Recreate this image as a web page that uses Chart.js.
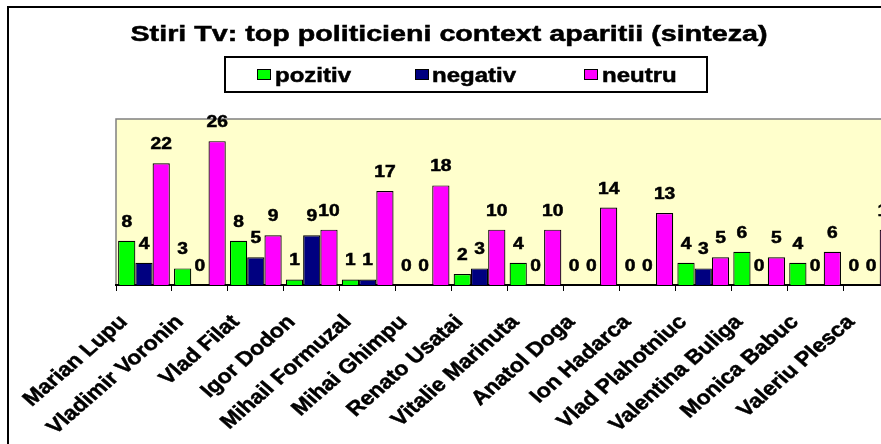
<!DOCTYPE html>
<html>
<head>
<meta charset="utf-8">
<script src="https://cdn.jsdelivr.net/npm/chart.js@4.4.1/dist/chart.umd.min.js"></script>
<style>
  html, body { margin: 0; padding: 0; background: #fff; }
  body { width: 881px; height: 444px; overflow: hidden; }
  canvas { display: block; }
</style>
</head>
<body>
<canvas id="chart" width="900" height="444"></canvas>
<script>
const categories = ['Marian Lupu', 'Vladimir Voronin', 'Vlad Filat', 'Igor Dodon', 'Mihail Formuzal',
    'Mihai Ghimpu', 'Renato Usatai', 'Vitalie Marinuta', 'Anatol Doga', 'Ion Hadarca',
    'Vlad Plahotniuc', 'Valentina Buliga', 'Monica Babuc', 'Valeriu Plesca'];
const pozitiv = [8, 3, 8, 1, 1, 0, 2, 4, 0, 0, 4, 6, 4, 0];
const negativ = [4, 0, 5, 9, 1, 0, 3, 0, 0, 0, 3, 0, 0, 0];
const neutru = [22, 26, 9, 10, 17, 18, 10, 10, 14, 13, 5, 5, 6, 10];
const seriesNames = ['pozitiv', 'negativ', 'neutru'];
const seriesColors = ['#00FF00', '#000080', '#FF00FF'];

const FONT = '"Liberation Sans", Arial, sans-serif';
// the picture is stretched sideways, so text is drawn wider than normal
// (a thin stroke makes it as heavy as the original bold)
function wideText(ctx, text, x, y, size, sx, align) {
    ctx.save();
    ctx.font = 'bold ' + size + 'px ' + FONT;
    ctx.translate(x, y);
    ctx.scale(sx, 1);
    ctx.textAlign = align;
    ctx.textBaseline = 'alphabetic';
    ctx.fillStyle = '#000';
    ctx.strokeStyle = '#000';
    ctx.lineWidth = 0.5;
    ctx.fillText(text, 0, 0);
    ctx.strokeText(text, 0, 0);
    ctx.restore();
}

const frame = {
    id: 'frame',
    beforeDraw(chart) {
        const ctx = chart.ctx;
        const a = chart.chartArea;
        ctx.save();
        ctx.fillStyle = '#fff';
        ctx.fillRect(0, 0, chart.width, chart.height);
        ctx.strokeStyle = '#000';
        ctx.lineWidth = 2;
        ctx.strokeRect(8, 7, chart.width + 20, chart.height + 20);
        ctx.fillStyle = '#FFFFCC';
        ctx.fillRect(a.left, a.top, a.right - a.left, a.bottom - a.top);
        ctx.strokeStyle = '#808080';
        ctx.lineWidth = 1.5;
        ctx.beginPath();
        ctx.moveTo(a.left, a.bottom);
        ctx.lineTo(a.left, a.top);
        ctx.lineTo(a.right, a.top);
        ctx.stroke();
        ctx.restore();
    },
    afterDraw(chart) {
        const ctx = chart.ctx;
        // title
        const title = chart.options.plugins.title.text;
        ctx.save();
        ctx.font = 'bold 22px ' + FONT;
        const tw = ctx.measureText(title).width;
        ctx.restore();
        wideText(ctx, title, 449, 41, 22, 637 / tw, 'center');

        // legend box
        ctx.save();
        ctx.strokeStyle = '#000';
        ctx.lineWidth = 2;
        ctx.strokeRect(225, 57, 482, 35);
        const swX = [257, 415, 584];
        const txX = [275, 432, 602];
        chart.data.datasets.forEach((ds, i) => {
            ctx.fillStyle = ds.backgroundColor;
            ctx.fillRect(swX[i], 69, 14, 11);
            ctx.lineWidth = 1;
            ctx.strokeRect(swX[i] + 0.5, 69.5, 13, 10);
            wideText(ctx, ds.label, txX[i], 82, 20, 1.2, 'left');
        });
        ctx.restore();

        // category labels, rotated
        const xs = chart.scales.x;
        const base = chart.chartArea.bottom;
        categories.forEach((c, i) => {
            const x = xs.getPixelForValue(i) - 20;
            ctx.save();
            ctx.font = 'bold 20px ' + FONT;
            ctx.translate(x, base + 34);
            ctx.scale(1.15, 1);
            ctx.rotate(-Math.PI / 4);
            ctx.textAlign = 'right';
            ctx.textBaseline = 'middle';
            ctx.fillStyle = '#000';
            ctx.strokeStyle = '#000';
            ctx.lineWidth = 0.5;
            const lab = xs.getLabelForValue(i);
            ctx.fillText(lab, 0, 0);
            ctx.strokeText(lab, 0, 0);
            ctx.restore();
        });
    },
    afterDatasetsDraw(chart) {
        const ctx = chart.ctx;
        chart.data.datasets.forEach((ds, i) => {
            const meta = chart.getDatasetMeta(i);
            meta.data.forEach((bar, j) => {
                wideText(ctx, String(ds.data[j]), bar.x, bar.y - 14, 16, 1.2, 'center');
            });
        });
    }
};

new Chart(document.getElementById('chart'), {
    type: 'bar',
    data: {
        labels: categories,
        datasets: [pozitiv, negativ, neutru].map((d, i) => ({
            label: seriesNames[i],
            data: d,
            backgroundColor: seriesColors[i],
            borderColor: '#000',
            borderWidth: 1.2,
            barPercentage: 1,
            categoryPercentage: 0.925
        }))
    },
    options: {
        responsive: false,
        animation: false,
        layout: { padding: { left: 116, top: 119, right: 1, bottom: 0 } },
        plugins: {
            legend: { display: false },
            title: { display: false, text: 'Stiri Tv: top politicieni context aparitii (sinteza)' },
            tooltip: { enabled: false }
        },
        scales: {
            x: {
                offset: true,
                grid: { offset: true, drawOnChartArea: false, color: '#000', tickLength: 6, lineWidth: 1 },
                border: { color: '#000', width: 2 },
                ticks: { display: false },
                afterFit(s) { s.height = 159; }
            },
            y: { display: false, min: 0, max: 30 }
        }
    },
    plugins: [frame]
});
</script>
</body>
</html>
